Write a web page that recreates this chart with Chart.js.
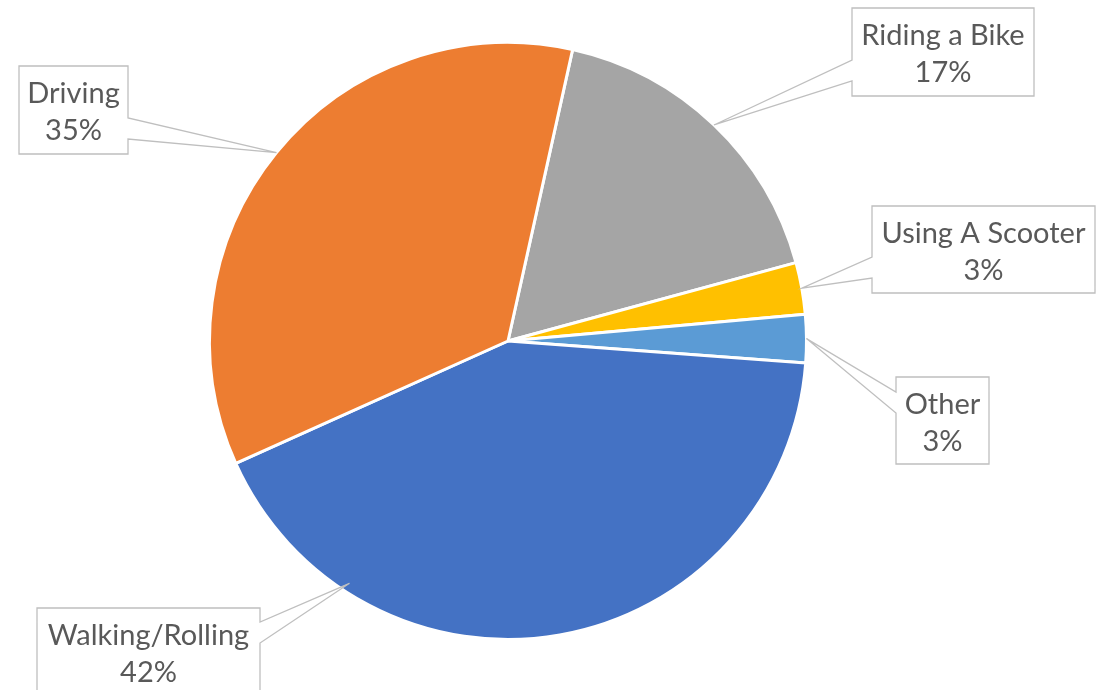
<!DOCTYPE html>
<html>
<head>
<meta charset="utf-8">
<script src="https://cdn.jsdelivr.net/npm/chart.js@4.4.1/dist/chart.umd.min.js"></script>
<style>
  html, body { margin: 0; padding: 0; background: #fff; overflow: hidden; }
  #modeChart { display: block; }
</style>
</head>
<body>
<canvas id="modeChart" width="1107" height="690"></canvas>
<script>
// data, in slice order (clockwise from the top)
const categories = ['Riding a Bike', 'Using A Scooter', 'Other', 'Walking/Rolling', 'Driving'];
const shares = [17.3, 2.8, 2.6, 42.1, 35.2];
const sliceColors = ['#A5A5A5', '#FFC000', '#5B9BD5', '#4472C4', '#ED7D31'];

// callout boxes: box rect, where the wedge meets the box, where the tip sits on the slice
const callouts = [
    { box: [852, 8, 182, 88], side: 'left', wedge: [60, 81], frac: 0.5, r: 1.0 },
    { box: [872, 206, 223, 87], side: 'left', wedge: [257, 278], frac: 0.5, r: 1.0 },
    { box: [896, 377, 93, 87], side: 'left', wedge: [392, 413], frac: 0.5, r: 1.0 },
    { box: [37, 608, 223, 87], side: 'right', wedge: [622, 643], frac: 0.785, r: 0.97 },
    { box: [19, 66, 109, 88], side: 'right', wedge: [118, 139], frac: 0.5, r: 1.0 }
];

const calloutPlugin = {
    id: 'callouts',
    afterDatasetsDraw(chart) {
        const c = chart.ctx;
        const meta = chart.getDatasetMeta(0);
        const total = shares.reduce((a, b) => a + b, 0);
        c.save();
        meta.data.forEach((arc, i) => {
            const co = callouts[i];
            const ang = arc.startAngle + (arc.endAngle - arc.startAngle) * co.frac;
            const tipX = arc.x + Math.cos(ang) * arc.outerRadius * co.r;
            const tipY = arc.y + Math.sin(ang) * arc.outerRadius * co.r;
            const [bx, by, bw, bh] = co.box;
            const ex = co.side === 'left' ? bx : bx + bw;

            c.beginPath();
            if (co.side === 'left') {
                c.moveTo(bx, by);
                c.lineTo(bx + bw, by);
                c.lineTo(bx + bw, by + bh);
                c.lineTo(bx, by + bh);
                c.lineTo(bx, co.wedge[1]);
                c.lineTo(tipX, tipY);
                c.lineTo(bx, co.wedge[0]);
            } else {
                c.moveTo(bx, by);
                c.lineTo(bx + bw, by);
                c.lineTo(ex, co.wedge[0]);
                c.lineTo(tipX, tipY);
                c.lineTo(ex, co.wedge[1]);
                c.lineTo(bx + bw, by + bh);
                c.lineTo(bx, by + bh);
            }
            c.closePath();
            c.fillStyle = '#ffffff';
            c.fill();
            c.strokeStyle = '#BFBFBF';
            c.lineWidth = 1.3;
            c.lineJoin = 'miter';
            c.stroke();

            c.fillStyle = '#595959';
            c.font = '29px Lato, "Liberation Sans", sans-serif';
            c.textAlign = 'center';
            c.textBaseline = 'alphabetic';
            const cx = bx + bw / 2;
            c.fillText(categories[i], cx, by + 37);
            c.fillText(Math.round(shares[i] / total * 100) + '%', cx, by + 74);
        });
        c.restore();
    }
};

const modeChart = new Chart(document.getElementById('modeChart').getContext('2d'), {
    type: 'pie',
    data: {
        labels: categories,
        datasets: [{
            data: shares,
            backgroundColor: sliceColors,
            borderColor: '#ffffff',
            borderWidth: 3
        }]
    },
    options: {
        responsive: false,
        animation: false,
        devicePixelRatio: 1,
        rotation: 12.5,
        layout: { padding: { top: 41, bottom: 49, left: 208, right: 299 } },
        plugins: {
            legend: { display: false },
            tooltip: { enabled: false }
        }
    },
    plugins: [calloutPlugin]
});
</script>
</body>
</html>
